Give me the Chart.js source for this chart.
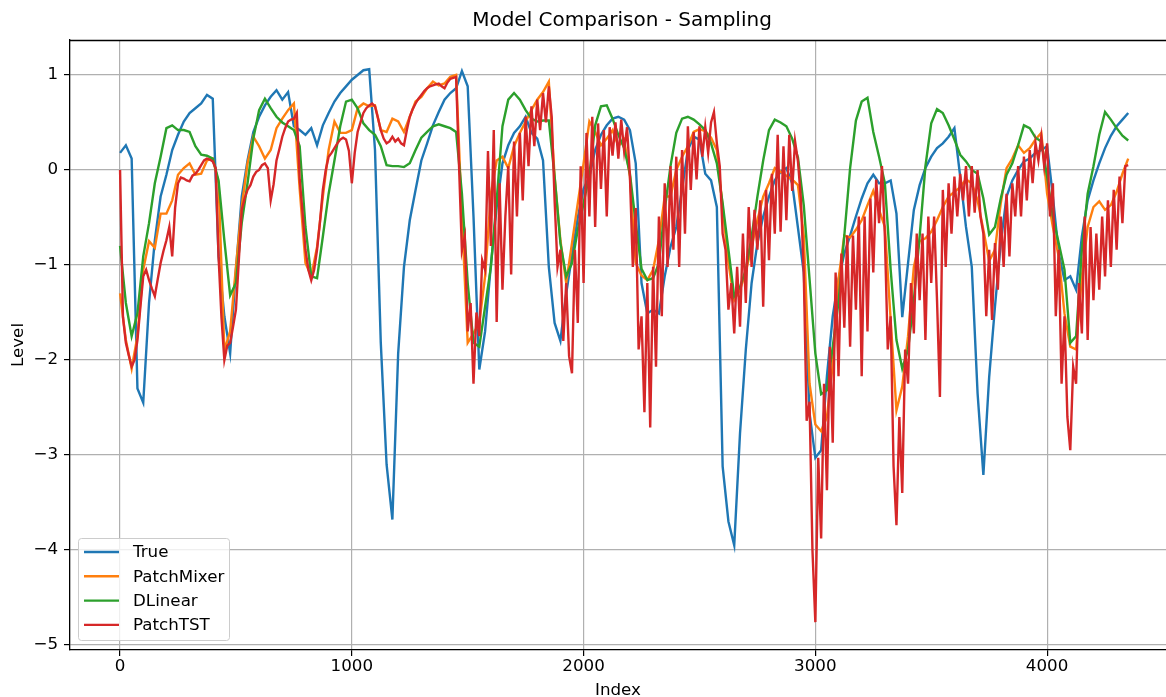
<!DOCTYPE html>
<html>
<head>
<meta charset="utf-8">
<title>Model Comparison - Sampling</title>
<script src="https://cdn.jsdelivr.net/npm/chart.js@4.4.1/dist/chart.umd.min.js"></script>
<style>
  html, body { margin: 0; padding: 0; background: #fff; }
  canvas { display: block; }
</style>
</head>
<body>
<canvas id="chart" width="1166" height="697"></canvas>
<script>
// every 25th sample of the test window (PatchTST every 12.5, it is much noisier)
const STEP = 25;
const TST_STEP = 12.5;

const trueLevel = [
  0.18, 0.26, 0.12, -2.30, -2.45, -1.40, -0.74, -0.28, -0.05, 0.21,
  0.37, 0.51, 0.60, 0.65, 0.70, 0.79, 0.75, -0.91, -1.54, -1.93,
  -1.05, -0.28, 0.10, 0.40, 0.56, 0.68, 0.77, 0.84, 0.74, 0.82,
  0.46, 0.42, 0.37, 0.44, 0.26, 0.47, 0.60, 0.72, 0.81, 0.88,
  0.95, 1.00, 1.05, 1.06, 0.21, -1.82, -3.10, -3.68, -1.93, -1.02,
  -0.53, -0.21, 0.10, 0.28, 0.47, 0.61, 0.74, 0.81, 0.86, 1.04,
  0.88, -0.49, -2.10, -1.70, -1.00, -0.39, 0.07, 0.26, 0.39, 0.46,
  0.56, 0.39, 0.33, 0.10, -1.02, -1.61, -1.80, -1.30, -0.90, -0.50,
  -0.20, -0.07, 0.21, 0.37, 0.47, 0.54, 0.56, 0.53, 0.42, 0.07,
  -1.19, -1.51, -1.47, -1.51, -1.12, -0.81, -0.60, -0.20, 0.21, 0.35,
  0.32, -0.04, -0.11, -0.39, -3.12, -3.70, -3.95, -2.77, -1.89, -1.19,
  -0.77, -0.49, -0.28, -0.11, -0.02, 0.02, -0.14, -0.61, -1.08, -2.56,
  -3.03, -2.95, -2.17, -1.54, -1.15, -0.88, -0.69, -0.49, -0.30, -0.14,
  -0.05, -0.14, -0.14, -0.11, -0.46, -1.55, -0.98, -0.42, -0.16, 0.02,
  0.14, 0.23, 0.28, 0.35, 0.44, -0.07, -0.60, -1.02, -2.35, -3.21,
  -2.18, -1.44, -0.77, -0.28, -0.11, 0.00, 0.09, 0.12, 0.18, 0.21,
  0.25, -0.28, -0.88, -1.16, -1.12, -1.26, -0.70, -0.32, -0.11, 0.07,
  0.23, 0.36, 0.46, 0.53, 0.60
];

const patchMixer = [
  -1.30, -1.79, -2.09, -1.75, -1.05, -0.75, -0.82, -0.46, -0.46, -0.32,
  -0.05, 0.02, 0.07, -0.05, -0.04, 0.10, 0.12, -0.14, -1.90, -1.70,
  -1.02, -0.39, 0.07, 0.35, 0.25, 0.12, 0.21, 0.44, 0.54, 0.63,
  0.70, -0.20, -0.98, -1.12, -0.81, -0.28, 0.21, 0.51, 0.39, 0.39,
  0.42, 0.65, 0.70, 0.67, 0.68, 0.42, 0.40, 0.54, 0.51, 0.40,
  0.56, 0.72, 0.77, 0.86, 0.93, 0.89, 0.91, 0.98, 1.00, -0.49,
  -1.82, -1.72, -1.61, -1.12, -0.25, 0.10, 0.14, 0.02, 0.25, 0.39,
  0.51, 0.63, 0.74, 0.82, 0.93, -0.07, -0.74, -1.19, -0.77, -0.35,
  0.07, 0.51, 0.40, 0.26, 0.33, 0.42, 0.25, 0.32, -0.07, -0.98,
  -1.11, -1.16, -1.05, -0.74, -0.28, -0.28, 0.00, 0.14, 0.25, 0.40,
  0.43, 0.41, 0.34, 0.21, -0.39, -0.98, -1.37, -1.26, -1.07, -0.81,
  -0.53, -0.28, -0.14, 0.02, -0.02, -0.06, -0.10, -0.16, -0.69, -2.25,
  -2.68, -2.75, -2.60, -2.05, -1.15, -0.69, -0.71, -0.63, -0.53, -0.37,
  -0.22, -0.42, -0.60, -1.58, -2.53, -2.28, -1.75, -1.02, -0.75, -0.72,
  -0.65, -0.53, -0.39, -0.28, -0.23, -0.18, -0.10, -0.14, -0.32, -0.63,
  -0.96, -0.84, -0.35, 0.02, 0.12, 0.26, 0.18, 0.23, 0.32, 0.39,
  -0.25, -0.60, -0.91, -1.51, -1.86, -1.89, -1.12, -0.60, -0.39, -0.33,
  -0.42, -0.37, -0.23, -0.04, 0.12
];

const dLinear = [
  -0.80, -1.40, -1.75, -1.51, -0.91, -0.56, -0.14, 0.14, 0.44, 0.47,
  0.42, 0.42, 0.40, 0.25, 0.16, 0.15, 0.12, -0.11, -0.74, -1.32,
  -1.19, -0.56, -0.14, 0.33, 0.63, 0.75, 0.65, 0.56, 0.50, 0.46,
  0.42, 0.25, -0.60, -1.12, -1.14, -0.70, -0.25, 0.10, 0.46, 0.72,
  0.74, 0.65, 0.49, 0.42, 0.37, 0.25, 0.05, 0.04, 0.04, 0.03,
  0.07, 0.21, 0.34, 0.40, 0.46, 0.48, 0.46, 0.44, 0.40, -0.25,
  -1.19, -1.82, -1.86, -1.44, -1.02, -0.32, 0.46, 0.74, 0.81, 0.74,
  0.63, 0.54, 0.51, 0.52, 0.52, -0.07, -0.77, -1.12, -0.98, -0.63,
  -0.35, -0.05, 0.47, 0.67, 0.68, 0.54, 0.37, 0.23, -0.04, -0.56,
  -1.04, -1.16, -1.14, -0.98, -0.42, 0.04, 0.39, 0.54, 0.56, 0.53,
  0.48, 0.42, 0.28, 0.07, -0.35, -0.84, -1.33, -1.23, -1.05, -0.70,
  -0.28, 0.10, 0.42, 0.53, 0.50, 0.46, 0.33, 0.13, -0.37, -1.15,
  -1.93, -2.36, -2.32, -1.86, -1.39, -0.69, 0.02, 0.52, 0.72, 0.76,
  0.40, 0.14, -0.14, -1.05, -1.79, -2.09, -1.89, -1.37, -0.70, 0.04,
  0.49, 0.64, 0.60, 0.47, 0.32, 0.16, 0.09, 0.00, -0.04, -0.30,
  -0.68, -0.60, -0.30, -0.05, 0.07, 0.26, 0.47, 0.44, 0.34, 0.30,
  -0.07, -0.49, -0.77, -1.05, -1.82, -1.75, -0.84, -0.25, 0.04, 0.37,
  0.61, 0.53, 0.44, 0.36, 0.31
];

// one row per 100 samples
const patchTST = [
  0.00, -1.55, -1.82, -1.95, -2.07, -2.00, -1.79, -1.45,
  -1.12, -1.05, -1.16, -1.25, -1.33, -1.15, -0.98, -0.85,
  -0.74, -0.60, -0.91, -0.40, -0.14, -0.08, -0.09, -0.11,
  -0.12, -0.06, -0.04, 0.00, 0.05, 0.10, 0.12, 0.11,
  0.09, 0.02, -0.91, -1.55, -2.00, -1.85, -1.82, -1.65,
  -1.47, -0.95, -0.42, -0.30, -0.21, -0.16, -0.07, -0.02,
  0.00, 0.05, 0.07, 0.02, -0.32, -0.15, 0.10, 0.22,
  0.35, 0.44, 0.51, 0.53, 0.54, 0.60, -0.10, -0.45,
  -0.84, -1.05, -1.16, -1.05, -0.84, -0.55, -0.21, 0.00,
  0.14, 0.18, 0.23, 0.28, 0.32, 0.34, 0.32, 0.20,
  -0.14, 0.18, 0.40, 0.50, 0.60, 0.65, 0.68, 0.70,
  0.67, 0.55, 0.42, 0.33, 0.28, 0.30, 0.35, 0.30,
  0.33, 0.28, 0.26, 0.42, 0.56, 0.64, 0.70, 0.75,
  0.79, 0.83, 0.86, 0.88, 0.89, 0.90, 0.91, 0.88,
  0.86, 0.92, 0.96, 0.97, 0.98, 0.05, -0.85, -0.70,
  -1.70, -1.40, -2.25, -1.50, -1.75, -0.95, -1.05, 0.20,
  -0.80, 0.42, -1.60, -0.14, -1.26, -0.49, 0.04, -1.10,
  0.30, -0.49, 0.39, -0.32, 0.56, 0.04, 0.67, 0.25,
  0.74, 0.42, 0.81, 0.50, 0.88, 0.56, -0.32, -1.02,
  -0.84, -1.80, -1.19, -1.96, -2.14, -0.84, -1.61, 0.04,
  -1.19, 0.39, -0.49, 0.56, -0.60, 0.49, -0.20, 0.42,
  -0.49, 0.45, 0.15, 0.50, 0.12, 0.53, 0.20, 0.45,
  -0.07, -1.02, -0.40, -1.89, -1.54, -2.55, -1.19, -2.71,
  -1.02, -2.07, -0.49, -1.54, -0.14, -1.02, 0.04, -0.84,
  0.14, -1.02, 0.21, -0.67, 0.46, -0.21, 0.40, -0.10,
  0.46, 0.14, 0.45, 0.18, 0.50, 0.61, 0.28, 0.04,
  -0.67, -0.84, -1.47, -1.19, -1.72, -1.02, -1.65, -0.67,
  -1.40, -0.39, -1.02, -0.42, -0.84, -0.32, -1.44, -0.21,
  -0.95, -0.04, -0.67, 0.37, -0.65, 0.25, -0.53, 0.37,
  -0.22, 0.30, 0.09, -0.30, -1.08, -2.64, -2.44, -4.00,
  -4.76, -3.03, -3.88, -2.25, -3.37, -1.86, -2.87, -1.08,
  -2.17, -0.88, -1.66, -0.69, -1.86, -0.69, -1.47, -0.49,
  -2.17, -0.49, -1.70, -0.30, -1.08, -0.10, -0.56, 0.04,
  -0.70, -1.89, -1.54, -3.12, -3.74, -2.60, -3.40, -1.89,
  -2.25, -1.19, -1.72, -0.67, -1.37, -0.67, -1.79, -0.49,
  -1.19, -0.49, -1.37, -2.39, -0.21, -1.02, -0.14, -0.67,
  -0.07, -0.49, -0.04, -0.32, 0.04, -0.49, 0.04, -0.45,
  0.00, -0.49, -0.67, -1.54, -0.84, -1.58, -0.77, -1.26,
  -0.49, -1.02, -0.25, -0.91, -0.14, -0.49, 0.04, -0.49,
  0.14, -0.32, 0.21, -0.14, 0.28, 0.10, 0.35, 0.04,
  0.28, -0.49, -0.14, -1.54, -0.84, -2.25, -1.54, -2.60,
  -2.95, -2.07, -2.25, -1.19, -1.72, -0.49, -1.79, -0.60,
  -1.37, -0.67, -1.26, -0.49, -1.12, -0.32, -1.02, -0.21,
  -0.84, -0.07, -0.56, 0.04, 0.05
];

const index = trueLevel.map((_, i) => i * STEP);
const tstIndex = patchTST.map((_, i) => i * TST_STEP);

const xTicks = [0, 1000, 2000, 3000, 4000];
const yTicks = [-5, -4, -3, -2, -1, 0, 1];

const series = [
  { label: 'True', x: index, values: trueLevel, color: '#1f77b4' },
  { label: 'PatchMixer', x: index, values: patchMixer, color: '#ff7f0e' },
  { label: 'DLinear', x: index, values: dLinear, color: '#2ca02c' },
  { label: 'PatchTST', x: tstIndex, values: patchTST, color: '#d62728' }
];

const FONT = "'DejaVu Sans', sans-serif";
const FS = 16.7;
Chart.defaults.font.family = FONT;
Chart.defaults.color = '#000';

// matplotlib style minus sign
const fmt = v => (v < 0 ? '\u2212' + Math.abs(v) : String(v));

// top spine (left/bottom come from the axis borders)
const frame = {
  id: 'frame',
  afterDatasetsDraw(chart) {
    const { ctx, chartArea: a } = chart;
    ctx.save();
    ctx.strokeStyle = '#000';
    ctx.lineWidth = 1.3;
    ctx.beginPath();
    ctx.moveTo(a.left, a.top + 0.5);
    ctx.lineTo(a.right, a.top + 0.5);
    ctx.stroke();
    ctx.restore();
  }
};

const heading = {
  id: 'heading',
  afterDraw(chart) {
    const { ctx } = chart;
    ctx.save();
    ctx.font = '20px ' + FONT;
    ctx.fillStyle = '#000';
    ctx.textAlign = 'center';
    ctx.textBaseline = 'middle';
    ctx.fillText('Model Comparison - Sampling', 622, 21);
    ctx.restore();
  }
};

// legend box in the lower left corner
const legendBox = {
  id: 'legendBox',
  afterDraw(chart) {
    const { ctx } = chart;
    const x = 78.5, y = 538.5, w = 151, h = 102;
    ctx.save();
    ctx.beginPath();
    ctx.roundRect(x, y, w, h, 3);
    ctx.fillStyle = 'rgba(255,255,255,0.8)';
    ctx.fill();
    ctx.strokeStyle = '#cccccc';
    ctx.lineWidth = 1;
    ctx.stroke();
    ctx.font = FS + 'px ' + FONT;
    ctx.textBaseline = 'middle';
    series.forEach((s, i) => {
      const ly = 552 + i * 24.3;
      ctx.strokeStyle = s.color;
      ctx.lineWidth = 2.4;
      ctx.beginPath();
      ctx.moveTo(84, ly);
      ctx.lineTo(119, ly);
      ctx.stroke();
      ctx.fillStyle = '#000';
      ctx.fillText(s.label, 133, ly + 1);
    });
    ctx.restore();
  }
};

const gridOpts = {
  color: '#b0b0b0',
  lineWidth: 1.2,
  tickColor: '#000',
  tickLength: 6,
  tickWidth: 1.2
};

new Chart(document.getElementById('chart'), {
  type: 'line',
  data: {
    datasets: series.map((s, i) => ({
      label: s.label,
      data: s.values.map((v, j) => ({ x: s.x[j], y: v })),
      borderColor: s.color,
      backgroundColor: s.color,
      borderWidth: 2.4,
      pointRadius: 0,
      tension: 0,
      order: series.length - i
    }))
  },
  options: {
    responsive: false,
    animation: false,
    layout: { padding: { top: 40, left: 0, right: 0, bottom: 0 } },
    plugins: {
      legend: { display: false },
      title: { display: false },
      tooltip: { enabled: false }
    },
    scales: {
      x: {
        type: 'linear',
        min: -216,
        max: 4513,
        afterBuildTicks: s => { s.ticks = xTicks.map(v => ({ value: v })); },
        afterFit: s => { s.height = 47; },
        grid: gridOpts,
        border: { color: '#000', width: 1.3 },
        ticks: { font: { size: FS }, padding: 1, maxRotation: 0, callback: fmt },
        title: {
          display: true, text: 'Index',
          font: { size: FS, lineHeight: 0.8 },
          padding: { top: 0, bottom: 0 }
        }
      },
      y: {
        type: 'linear',
        min: -5.053,
        max: 1.368,
        afterBuildTicks: s => { s.ticks = yTicks.map(v => ({ value: v })); },
        afterFit: s => { s.width = 70; },
        grid: gridOpts,
        border: { color: '#000', width: 1.3 },
        ticks: { font: { size: FS }, padding: 6, callback: fmt },
        title: {
          display: true, text: 'Level',
          font: { size: FS, lineHeight: 1 },
          padding: { top: 10, bottom: 0 }
        }
      }
    }
  },
  plugins: [frame, heading, legendBox]
});
</script>
</body>
</html>
